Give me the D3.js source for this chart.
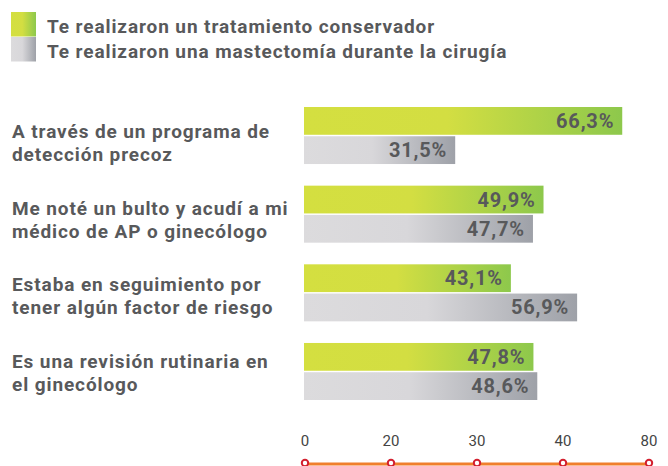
<!DOCTYPE html>
<html>
<head>
<meta charset="utf-8">
<script src="https://cdn.jsdelivr.net/npm/d3@7"></script>
<style>
  body { margin: 0; background: #fff; }
  svg { display: block; font-family: Roboto, "Open Sans", sans-serif; }
</style>
</head>
<body>
<svg id="chart" width="668" height="466"></svg>
<script>
// data
var categories = [
    ["A través de un programa de", "detección precoz"],
    ["Me noté un bulto y acudí a mi", "médico de AP o ginecólogo"],
    ["Estaba en seguimiento por", "tener algún factor de riesgo"],
    ["Es una revisión rutinaria en", "el ginecólogo"]
];
var conservador = [66.3, 49.9, 43.1, 47.8];
var mastectomia = [31.5, 47.7, 56.9, 48.6];
var tickLabels = ["0", "20", "30", "40", "80"];
var legendLabels = [
    "Te realizaron un tratamiento conservador",
    "Te realizaron una mastectomía durante la cirugía"
];

var textColor = '#58595b';
var svg = d3.select('#chart');

// gradients
var defs = svg.append('defs');
function grad(id, stops) {
    var g = defs.append('linearGradient').attr('id', id)
        .attr('x1', '0%').attr('x2', '100%').attr('y1', '0%').attr('y2', '0%');
    stops.forEach(function(s) {
        g.append('stop').attr('offset', s[0]).attr('stop-color', s[1]);
    });
}
grad('gGreen', [['0%', '#d4df40'], ['45%', '#d3de42'], ['100%', '#8dc84c']]);
grad('gGrey', [['0%', '#dcdbdd'], ['45%', '#d8d7da'], ['100%', '#9ea1a8']]);

// legend
var legend = svg.append('g');
legendLabels.forEach(function(t, i) {
    legend.append('rect')
        .attr('x', 11).attr('y', 12 + i * 25)
        .attr('width', 25).attr('height', 24.5)
        .attr('fill', i === 0 ? 'url(#gGreen)' : 'url(#gGrey)');
    legend.append('text')
        .attr('x', 47).attr('y', 33 + i * 25)
        .attr('fill', textColor)
        .style('font-size', '19px')
        .style('font-weight', 'bold')
        .style('letter-spacing', '0.9px')
        .text(t);
});

// scales
var x = d3.scaleLinear().domain([0, 80]).range([304, 688]);
var y = d3.scaleBand().domain(d3.range(categories.length))
    .range([107, 400]).paddingInner(0.275).paddingOuter(0);
var ySub = d3.scaleBand().domain(['c', 'm'])
    .range([0, y.bandwidth()]).paddingInner(0.05);
// label baselines sit a bit differently from the bars
var yLabel = d3.scaleLinear().domain([0, categories.length - 1]).range([138, 368]);

var series = [
    { key: 'c', values: conservador, fill: 'url(#gGreen)' },
    { key: 'm', values: mastectomia, fill: 'url(#gGrey)' }
];

// category labels
svg.selectAll('.cat-label')
    .data(categories)
    .enter()
    .append('text')
    .attr('class', 'cat-label')
    .attr('y', function(d, i) { return yLabel(i); })
    .attr('fill', textColor)
    .style('font-size', '19px')
    .style('font-weight', 'bold')
    .style('letter-spacing', '0.9px')
    .selectAll('tspan')
    .data(function(d) { return d; })
    .enter()
    .append('tspan')
    .attr('x', 12)
    .attr('dy', function(d, i) { return i === 0 ? '0' : '23'; })
    .text(function(d) { return d; });

var groups = svg.selectAll('.group')
    .data(categories)
    .enter()
    .append('g')
    .attr('class', 'group')
    .attr('transform', function(d, i) { return 'translate(0,' + y(i) + ')'; });

series.forEach(function(s) {
    groups.append('rect')
        .attr('x', x(0))
        .attr('y', ySub(s.key))
        .attr('width', function(d, i) { return x(s.values[i]) - x(0); })
        .attr('height', ySub.bandwidth())
        .attr('fill', s.fill);

    groups.append('text')
        .attr('x', function(d, i) { return x(s.values[i]) - 8; })
        .attr('y', ySub(s.key) + ySub.bandwidth() / 2 + 7)
        .attr('text-anchor', 'end')
        .attr('fill', textColor)
        .style('font-size', '20px')
        .style('font-weight', 'bold')
        .style('letter-spacing', '0.8px')
        .text(function(d, i) { return String(s.values[i]).replace('.', ',') + '%'; });
});

// decorative axis: evenly spaced labels
var xa = d3.scalePoint().domain(tickLabels).range([305, 649]);
var axis = svg.append('g');
axis.append('line')
    .attr('x1', xa(tickLabels[0])).attr('x2', xa(tickLabels[tickLabels.length - 1]))
    .attr('y1', 464).attr('y2', 464)
    .attr('stroke', '#f07f2c').attr('stroke-width', 3);
axis.selectAll('circle')
    .data(tickLabels)
    .enter()
    .append('circle')
    .attr('cx', function(d) { return xa(d); })
    .attr('cy', 463)
    .attr('r', 3.2)
    .attr('fill', '#fff')
    .attr('stroke', '#d3202f')
    .attr('stroke-width', 2);
axis.selectAll('.tick-label')
    .data(tickLabels)
    .enter()
    .append('text')
    .attr('class', 'tick-label')
    .attr('x', function(d) { return xa(d); })
    .attr('y', 446)
    .attr('text-anchor', 'middle')
    .attr('fill', '#444')
    .style('font-size', '15px')
    .text(function(d) { return d; });
</script>
</body>
</html>
